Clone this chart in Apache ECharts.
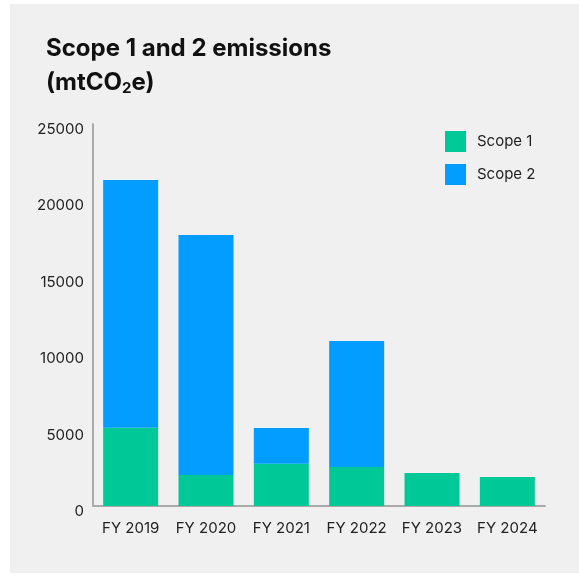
<!DOCTYPE html>
<html>
<head>
<meta charset="utf-8">
<script src="https://cdn.jsdelivr.net/npm/echarts@6/dist/echarts.min.js"></script>
<style>
  html, body { margin: 0; padding: 0; background: #ffffff; }
  #chart { width: 579px; height: 581px; }
</style>
</head>
<body>
<div id="chart"></div>
<script>
// Fiscal years on the x axis
const categories = ['FY 2019', 'FY 2020', 'FY 2021', 'FY 2022', 'FY 2023', 'FY 2024'];
// Emissions in metric tonnes CO2e
const scope1 = [5120, 2030, 2770, 2560, 2160, 1900];
const scope2 = [16210, 15710, 2330, 8240, 0, 0];
const seriesNames = ['Scope 1', 'Scope 2'];

const FONT = 'Inter, "Liberation Sans", sans-serif';
const GREEN = '#00c896';
const BLUE = '#039cff';

const chart = echarts.init(document.getElementById('chart'), null, { renderer: 'canvas' });

chart.setOption({
  backgroundColor: 'transparent',
  animation: false,
  graphic: [{
    type: 'rect',
    z: -10,
    shape: { x: 10, y: 4, width: 569, height: 569 },
    style: { fill: '#f0f0f0' }
  }],
  title: {
    left: 41,
    top: 27,
    text: 'Scope 1 and 2 emissions\n({a|mtCO}{s|2}{a|e)}',
    textStyle: {
      fontFamily: FONT,
      fontSize: 24,
      fontWeight: 'bold',
      color: '#111111',
      lineHeight: 34,
      rich: {
        a: { fontFamily: FONT, fontSize: 24, fontWeight: 'bold', color: '#111111', lineHeight: 34 },
        s: { fontFamily: FONT, fontSize: 15, fontWeight: 'bold', color: '#111111', lineHeight: 34, padding: [10, 0, 0, 0] }
      }
    }
  },
  legend: {
    orient: 'vertical',
    left: 440,
    top: 126,
    itemWidth: 21,
    itemHeight: 21,
    itemGap: 12,
    icon: 'rect',
    textStyle: { fontFamily: FONT, fontSize: 15, color: '#222222', padding: [0, 0, 0, 6] },
    data: seriesNames
  },
  grid: { left: 93, right: 34, top: 124, bottom: 75, containLabel: false },
  xAxis: {
    type: 'category',
    data: categories,
    axisLine: { lineStyle: { color: '#aaaaaa', width: 2 } },
    axisTick: { show: false },
    axisLabel: { interval: 0, fontFamily: FONT, fontSize: 15, color: '#222222', margin: 15 }
  },
  yAxis: {
    type: 'value',
    min: 0,
    max: 25000,
    interval: 5000,
    axisLine: { show: true, lineStyle: { color: '#aaaaaa', width: 2 } },
    axisTick: { show: false },
    splitLine: { show: false },
    axisLabel: {
      fontFamily: FONT, fontSize: 15, color: '#222222', margin: 9,
      verticalAlign: 'top',
      lineHeight: 11,
      formatter: function (v) { return String(v); }
    }
  },
  series: [
    {
      name: seriesNames[0],
      type: 'bar',
      stack: 'total',
      barWidth: 55,
      itemStyle: { color: GREEN },
      data: scope1
    },
    {
      name: seriesNames[1],
      type: 'bar',
      stack: 'total',
      barWidth: 55,
      itemStyle: { color: BLUE },
      data: scope2
    }
  ]
});
</script>
</body>
</html>
